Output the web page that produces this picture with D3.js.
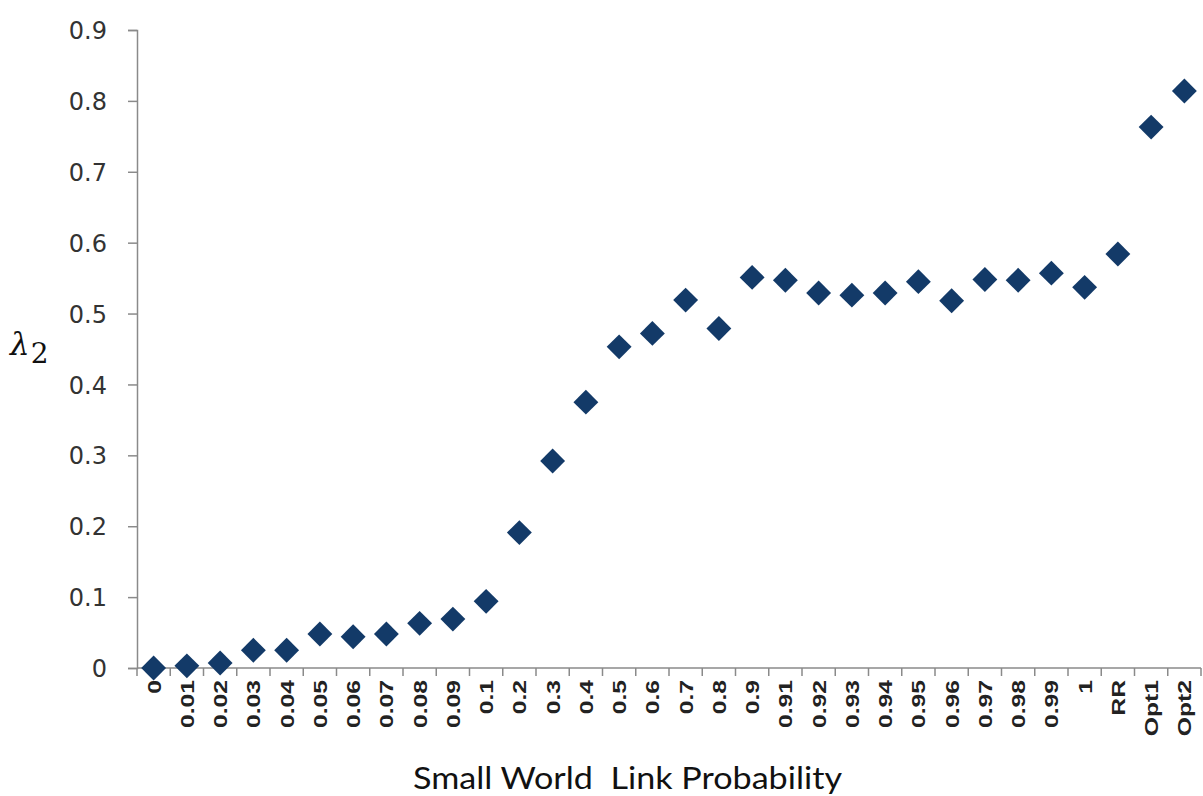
<!DOCTYPE html>
<html>
<head>
<meta charset="utf-8">
<title>Small World Link Probability</title>
<script src="https://cdnjs.cloudflare.com/ajax/libs/d3/7.8.5/d3.min.js"></script>
<style>
	body { margin: 0; background: #fff; }
	svg { display: block; }
</style>
</head>
<body>
<script>
	// categories along x (link probability, then the reference nets)
	var categories = ['0', '0.01', '0.02', '0.03', '0.04', '0.05', '0.06', '0.07', '0.08', '0.09',
		'0.1', '0.2', '0.3', '0.4', '0.5', '0.6', '0.7', '0.8', '0.9',
		'0.91', '0.92', '0.93', '0.94', '0.95', '0.96', '0.97', '0.98', '0.99', '1',
		'RR', 'Opt1', 'Opt2'];

	// lambda_2
	var lambda2 = [0, 0.003, 0.007, 0.025, 0.025, 0.048, 0.044, 0.048, 0.063, 0.069,
		0.094, 0.191, 0.292, 0.375, 0.453, 0.472, 0.519, 0.479, 0.551,
		0.547, 0.529, 0.526, 0.529, 0.545, 0.518, 0.548, 0.547, 0.557, 0.537,
		0.584, 0.763, 0.814];

	var yTicks = [0, 0.1, 0.2, 0.3, 0.4, 0.5, 0.6, 0.7, 0.8, 0.9];

	var W = 1203, H = 796;
	var plotLeft = 137, plotRight = 1201, plotTop = 30, plotBottom = 668;

	var svg = d3.select('body').append('svg')
		.attr('width', W)
		.attr('height', H);

	var x = d3.scaleBand()
		.domain(categories)
		.range([plotLeft, plotRight]);

	var y = d3.scaleLinear()
		.domain([0, 0.9])
		.range([plotBottom, plotTop]);

	var axisColor = '#8a8a8a';
	var textColor = '#333';

	// y axis
	var yAxis = svg.append('g')
		.attr('transform', 'translate(' + plotLeft + ',0)')
		.call(d3.axisLeft(y)
			.tickValues(yTicks)
			.tickSize(9)
			.tickPadding(21)
			.tickFormat(function (d) { return d === 0 ? '0' : d.toFixed(1); }));
	yAxis.select('.domain').attr('stroke', axisColor).attr('stroke-width', 1.5);
	yAxis.selectAll('.tick line').attr('stroke', axisColor).attr('stroke-width', 1.5);
	yAxis.selectAll('.tick text')
		.attr('fill', textColor)
		.style('font-family', '"DejaVu Sans", Verdana, sans-serif')
		.style('font-size', '24px')
		.attr('dy', '0.36em');

	// x axis: line, ticks between categories, rotated labels
	var xAxis = svg.append('g');
	xAxis.append('line')
		.attr('x1', plotLeft).attr('x2', plotRight)
		.attr('y1', plotBottom).attr('y2', plotBottom)
		.attr('stroke', axisColor).attr('stroke-width', 1.5);

	var bounds = categories.map(function (c) { return x(c); }).concat([plotRight]);
	xAxis.selectAll('line.tick')
		.data(bounds)
		.enter()
		.append('line')
		.attr('class', 'tick')
		.attr('x1', function (d) { return d; })
		.attr('x2', function (d) { return d; })
		.attr('y1', plotBottom)
		.attr('y2', plotBottom + 8)
		.attr('stroke', axisColor)
		.attr('stroke-width', 1.5);

	xAxis.selectAll('text.cat')
		.data(categories)
		.enter()
		.append('text')
		.attr('class', 'cat')
		.attr('transform', function (d) {
			return 'translate(' + (x(d) + x.bandwidth() / 2 + 7) + ',' + (plotBottom + 12) + ') rotate(-90) scale(1.3,1)';
		})
		.attr('text-anchor', 'end')
		.attr('fill', '#222')
		.style('font-family', '"Liberation Sans", Arial, sans-serif')
		.style('font-weight', 'bold')
		.style('font-size', '19px')
		.text(function (d) { return d; });

	// points
	svg.append('g')
		.selectAll('path')
		.data(lambda2)
		.enter()
		.append('path')
		.attr('d', d3.symbol(d3.symbolSquare, 310))
		.attr('transform', function (d, i) {
			return 'translate(' + (x(categories[i]) + x.bandwidth() / 2) + ',' + y(d) + ') rotate(45)';
		})
		.attr('fill', '#133a68');

	// axis titles
	svg.append('text')
		.attr('x', 413)
		.attr('y', 789)
		.attr('fill', '#111')
		.attr('textLength', 429)
		.attr('lengthAdjust', 'spacingAndGlyphs')
		.attr('xml:space', 'preserve')
		.style('font-family', 'Lato, "Open Sans", sans-serif')
		.style('font-size', '31px')
		.text('Small World  Link Probability');

	var lam = svg.append('text')
		.attr('x', 10)
		.attr('y', 355)
		.attr('fill', '#111')
		.style('font-family', '"DejaVu Serif", serif');
	lam.append('tspan')
		.style('font-style', 'italic')
		.style('font-size', '31px')
		.text('λ');
	lam.append('tspan')
		.attr('dy', 8)
		.attr('dx', 1)
		.style('font-size', '28px')
		.text('2');
</script>
</body>
</html>
